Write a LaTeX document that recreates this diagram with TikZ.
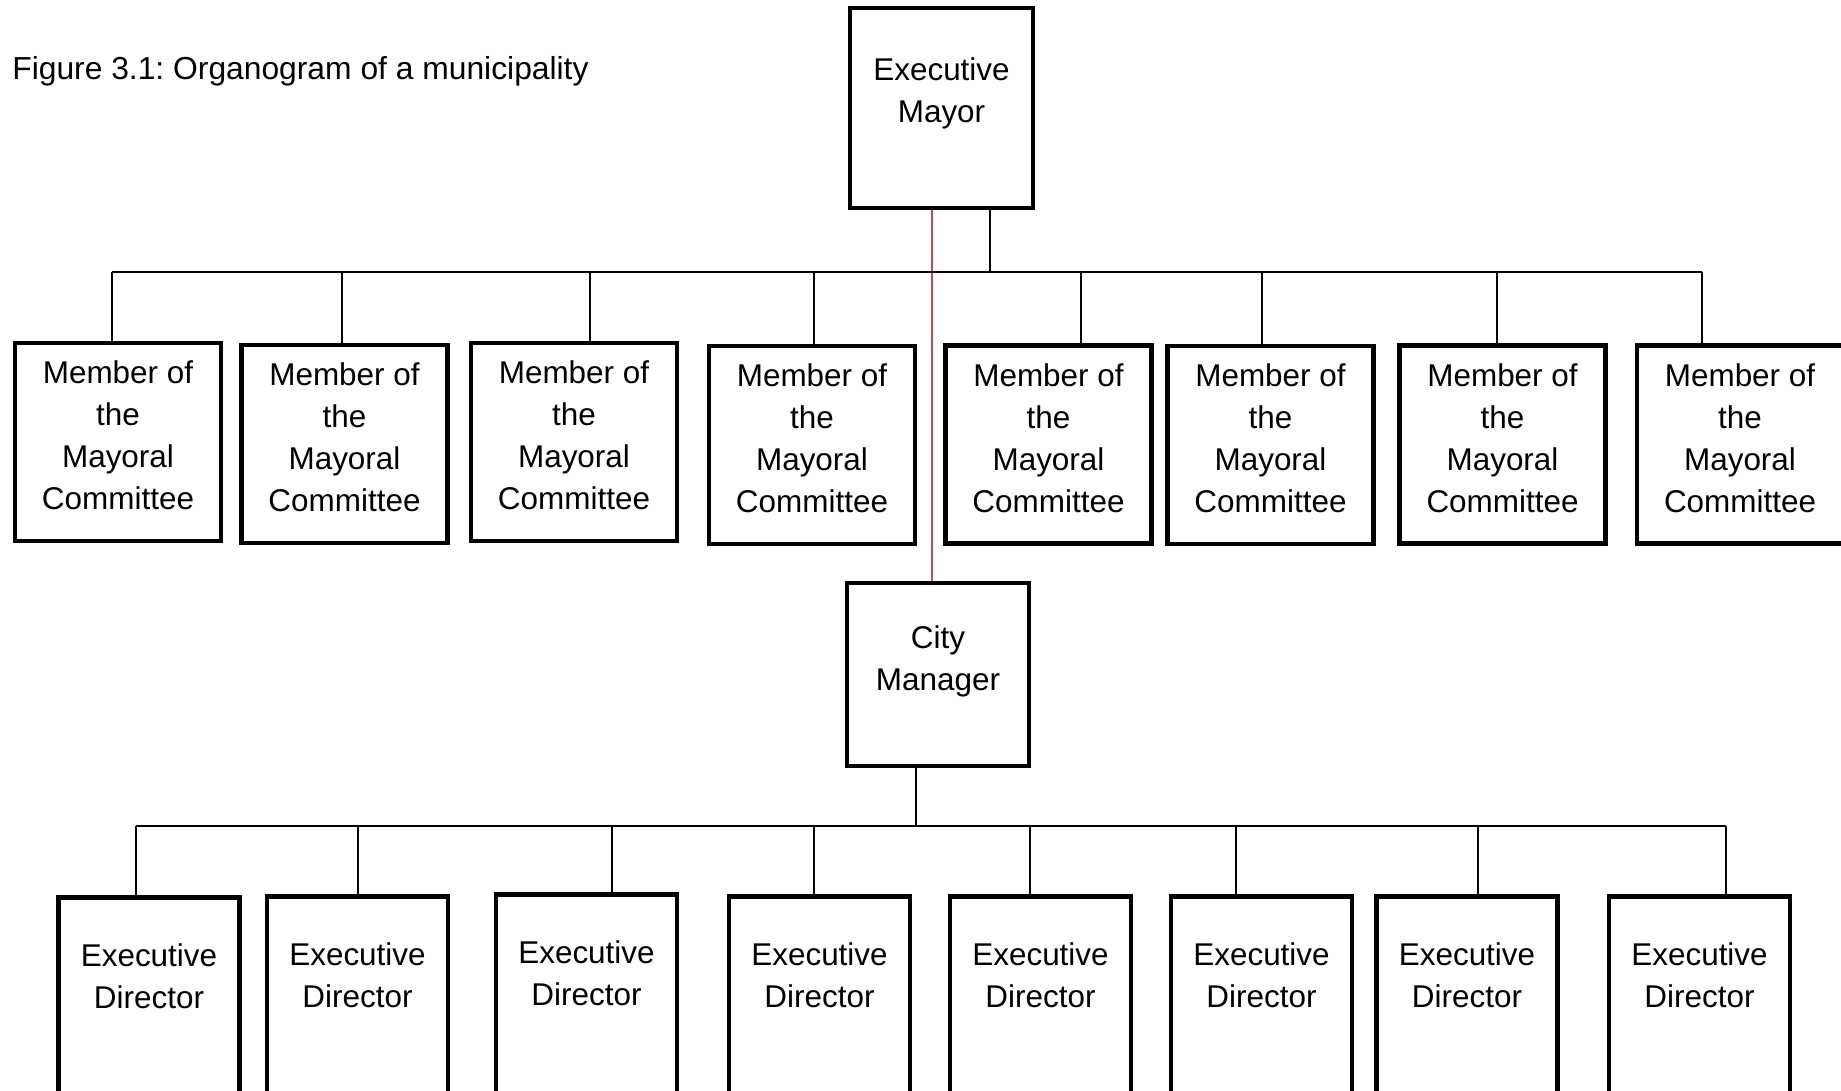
\documentclass[tikz,border=0pt]{standalone}
\usepackage{fontspec}
\setmainfont{Liberation Sans}
\frenchspacing
\usetikzlibrary{positioning}
\definecolor{linkred}{RGB}{192,80,77}
\tikzset{
  post/.style={draw, line width=2.7pt, inner sep=0pt},
  member/.style={post, minimum width=4.12cm, minimum height=3.96cm},
  director/.style={post, anchor=north, minimum width=3.62cm, minimum height=5cm},
  txt/.style={inner sep=0pt, align=center, font=\fontsize{17.9}{23.9}\selectfont},
  link/.style={line width=0.8pt},
}
\begin{document}
\begin{tikzpicture}[x=0.02cm,y=-0.02cm]
\useasboundingbox (0,0) rectangle (1841,1091);
\clip (0,0) rectangle (1841,1091);
\node[anchor=base west, inner sep=0pt, font=\fontsize{18.1}{22}\selectfont] (title) at (12,80) {Figure 3.1: Organogram of a municipality};
% top of the tree
\node[post, minimum width=3.66cm, minimum height=4cm] (mayor) at (941.5,108) {};
\node[txt, below=1.04cm of mayor.north] (mayortxt) {Executive\\Mayor};
\node[post, minimum width=3.64cm, minimum height=3.66cm] (cm) at (938,674.5) {};
\node[txt, below=0.9cm of cm.north] (cmtxt) {City\\Manager};
\coordinate (redx) at (932,0);
\draw[linkred, line width=0.6pt] (mayor.south -| redx) -- (cm.north -| redx);
% mayoral committee
\coordinate (mstem) at (990,272);
\coordinate (mbl) at (112,272);
\coordinate (mbr) at (1702,272);
\draw[link] (mayor.south -| mstem) -- (mstem);
\draw[link] (mbl) -- (mbr);
\foreach \i/\x/\y/\d in {1/118/442/112, 2/344.5/444/342, 3/574/442/590, 4/812/445/814, 5/1048.5/444.5/1081, 6/1270.5/445/1262, 7/1502.5/444.5/1497, 8/1740/444.5/1702} {
  \node[member] (m\i) at (\x,\y) {};
  \node[txt, below=0.4cm of m\i.north] (mt\i) {Member of\\the\\Mayoral\\Committee};
  \coordinate (md\i) at (\d,272);
  \draw[link] (md\i) -- (md\i |- m\i.north);
}
% executive directors
\coordinate (cstem) at (916,826);
\coordinate (dbl) at (136,826);
\coordinate (dbr) at (1726,826);
\draw[link] (cm.south -| cstem) -- (cstem);
\draw[link] (dbl) -- (dbr);
\foreach \i/\x/\t/\d in {1/149/895/136, 2/357.5/894/358, 3/586.5/892/612, 4/819.5/894/814, 5/1040.5/894/1030, 6/1261.5/894/1236, 7/1467/894/1478, 8/1699.5/894/1726} {
  \node[director] (e\i) at (\x,\t) {};
  \node[txt, below=0.97cm of e\i.north] (et\i) {Executive\\Director};
  \coordinate (ed\i) at (\d,826);
  \draw[link] (ed\i) -- (ed\i |- e\i.north);
}
\end{tikzpicture}
\end{document}
